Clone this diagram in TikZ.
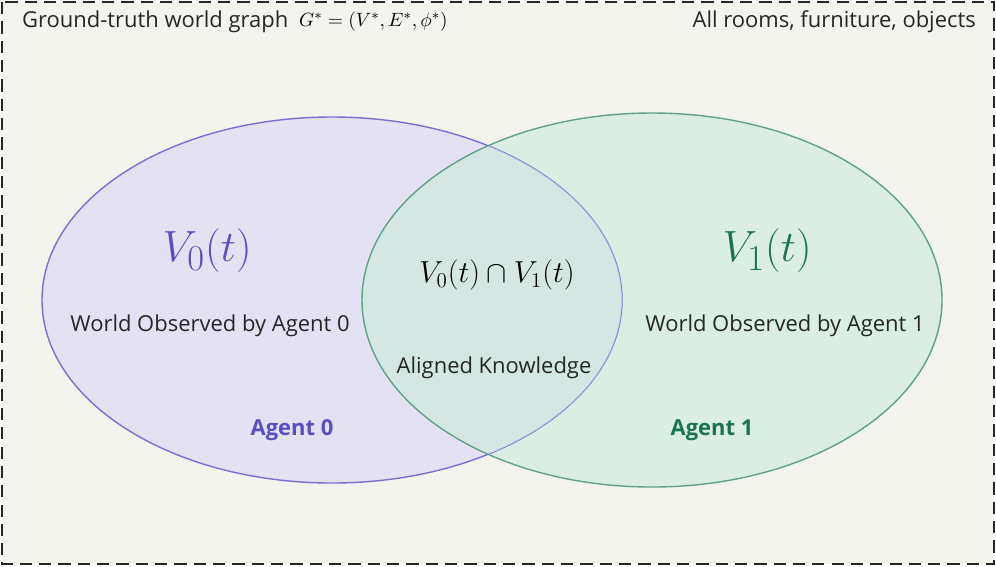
\documentclass[tikz,border=0pt]{standalone}
\usepackage{fontspec}
\setmainfont{Liberation Serif}
\setsansfont{Open Sans}
\begin{document}
\begin{tikzpicture}[x=0.02cm,y=-0.02cm,
  lbl/.style={font=\sffamily\fontsize{12.5}{14}\selectfont, text=black!85},
  agent/.style={font=\sffamily\bfseries\fontsize{12.5}{14}\selectfont},
  bigmath/.style={font=\fontsize{30}{34}\selectfont}]
\definecolor{bg}{HTML}{F3F4EE}
\definecolor{pur}{HTML}{5A4EC2}
\definecolor{purline}{HTML}{7B6FD3}
\definecolor{purfill}{HTML}{E3E1F2}
\definecolor{grn}{HTML}{1B7352}
\definecolor{grnline}{HTML}{5EA386}
\definecolor{grnfill}{HTML}{DAEEE3}
\definecolor{mixfill}{HTML}{D3E5E4}
\useasboundingbox (0,0) rectangle (996,566);
\draw[fill=bg, draw=black!85, dash pattern=on 7pt off 4pt, line width=0.8pt] (2,2) rectangle (994,564);
\node[lbl, anchor=west] (gt) at (16,22) {Ground-truth world graph};
\node[anchor=west, font=\fontsize{11}{12}\selectfont] (gf) at (293,22) {$G^{*}=(V^{*},E^{*},\phi^{*})$};
\node[lbl, anchor=east] (all) at (982,22) {All rooms, furniture, objects};
\fill[purfill] (332,300) ellipse [x radius=290, y radius=183];
\fill[grnfill] (652,300) ellipse [x radius=290, y radius=187];
\draw[purline, line width=0.8pt] (332,300) ellipse [x radius=290, y radius=183];
\begin{scope}
\clip (332,300) ellipse [x radius=290, y radius=183];
\fill[mixfill, opacity=0.7] (652,300) ellipse [x radius=290, y radius=187];
\end{scope}
\draw[grnline, line width=0.8pt] (652,300) ellipse [x radius=290, y radius=187];
\node[bigmath, text=pur] (v0) at (207,251) {$V_0(t)$};
\node[lbl] (w0) at (210,326) {World Observed by Agent 0};
\node[agent, text=pur] (a0) at (292,430) {Agent 0};
\node[font=\fontsize{18}{20}\selectfont] (vi) at (497,275) {$V_0(t)\cap V_1(t)$};
\node[lbl] (ak) at (494,368) {Aligned Knowledge};
\node[bigmath, text=grn] (v1) at (767,251) {$V_1(t)$};
\node[lbl] (w1) at (785,326) {World Observed by Agent 1};
\node[agent, text=grn] (a1) at (712,430) {Agent 1};
\end{tikzpicture}
\end{document}
